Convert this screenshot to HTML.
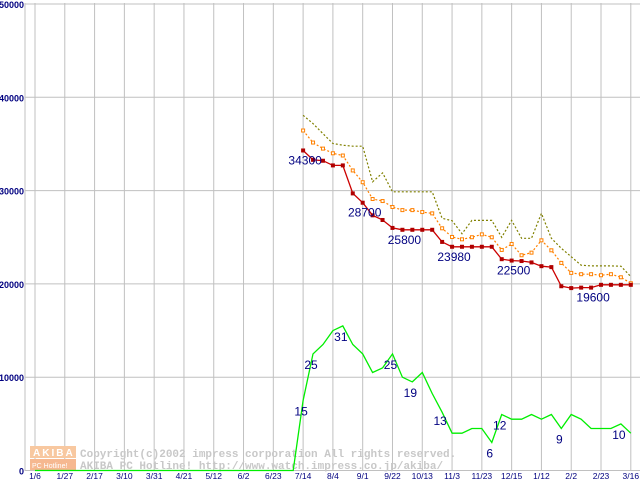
<!DOCTYPE html>
<html><head><meta charset="utf-8"><style>
html,body{margin:0;padding:0;background:#fff;}
svg{display:block;font-family:"Liberation Sans",sans-serif;}
</style></head><body>
<svg id="chart" width="640" height="480" viewBox="0 0 640 480" xmlns="http://www.w3.org/2000/svg">
<g id="grid"></g>
<g id="wm">
  <rect x="30" y="446" width="46" height="12" fill="#f8c8a0"/>
  <rect x="30" y="459" width="46" height="11" fill="#f6b890"/>
  <text x="33" y="456" font-size="10" font-weight="bold" fill="#fff" letter-spacing="2">AKIBA</text>
  <text x="32" y="468" font-size="7" fill="#fff">PC Hotline!</text>
  <text x="80" y="457" font-family="Liberation Mono,monospace" font-size="11" font-weight="bold" fill="#c8c8c8">Copyright(c)2002 impress corporation All rights reserved.</text>
  <text x="80" y="469" font-family="Liberation Mono,monospace" font-size="11" font-weight="bold" fill="#c8c8c8">AKIBA PC Hotline!  http://www.watch.impress.co.jp/akiba/</text>
</g>
<g id="series"></g>
<g id="labels"></g>
</svg>
<script>
const xTicks=["1/6","1/27","2/17","3/10","3/31","4/21","5/12","6/2","6/23","7/14","8/4","9/1","9/22","10/13","11/3","11/23","12/15","1/12","2/2","2/23","3/16"];
const yTicks=[0,10000,20000,30000,40000,50000];
const startIdx=27;
const priceMin=[34300,33300,33200,32700,32700,29700,28700,27350,26850,26000,25800,25800,25800,25800,24500,23980,23980,23980,23980,23980,22650,22500,22450,22300,21900,21800,19750,19550,19600,19600,19900,19900,19900,19900];
const priceAvg=[36440,35150,34500,34000,33760,32160,30900,29100,28880,28240,27910,27910,27700,27560,25960,25030,24780,25000,25310,25000,23640,24280,23070,23350,24670,23600,22250,21180,21040,21040,20930,21040,20710,20070];
const priceMax=[38070,37180,36100,35050,34870,34760,34760,30940,31900,29870,29870,29870,29870,29870,27030,26770,25380,26810,26810,26810,25000,26810,24890,24890,27560,24890,23820,22920,22000,21930,21930,21930,21900,20780];
const shopCount=[0,0,0,0,0,0,0,0,0,0,0,0,0,0,0,0,0,0,0,0,0,0,0,0,0,0,0,15,25,27,30,31,27,25,21,22,25,20,19,21,16.5,12.5,8,8,9,9,6,12,11,11,12,11,12,9,12,11,9,9,9,10,8];
const countLabels=[[27,15],[28,25],[31,31],[36,25],[38,19],[41,13],[46,6],[47,12],[53,9],[59,10]];
const priceLabels=[[27,"34300"],[33,"28700"],[37,"25800"],[42,"23980"],[48,"22500"],[56,"19600"]];
const NS="http://www.w3.org/2000/svg";
const X0=35,STEP=9.93,Y0=470.5,YS=0.00933,CSCALE=500;
const xs=i=>X0+i*STEP, ys=v=>Y0-v*YS;
function mk(p,tag,at){const e=document.createElementNS(NS,tag);for(const k in at)e.setAttribute(k,at[k]);p.appendChild(e);return e;}
const grid=document.getElementById('grid'),ser=document.getElementById('series'),lab=document.getElementById('labels');
yTicks.forEach(t=>{
  const l=mk(grid,'line',{x1:25,x2:640,y1:ys(t),y2:ys(t),stroke:'#c0c0c0','stroke-width':1});
  
  
  const tx=mk(lab,'text',{x:24,y:ys(t)+4,'text-anchor':'end','font-size':9,'font-weight':'bold',fill:'#000080'});
  tx.textContent=t;
  
  
});
const ax=mk(grid,'line',{x1:25,x2:25,y1:3,y2:471,stroke:'#c0c0c0','stroke-width':1});


xTicks.forEach((t,k)=>{
  const x=xs(k*3);
  const l=mk(grid,'line',{x1:x,x2:x,y1:3,y2:471,stroke:'#c0c0c0','stroke-width':1});
  
  
  const tx=mk(lab,'text',{x:x,y:479,'text-anchor':'middle','font-size':8.5,fill:'#000080'});
  tx.textContent=t;
  
  
});
function pts(arr,off){return arr.map((v,i)=>xs(i+off).toFixed(1)+','+ys(v).toFixed(1)).join(' ');}
const gl=mk(ser,'polyline',{points:shopCount.map((v,i)=>xs(i).toFixed(1)+','+ys(v*CSCALE).toFixed(1)).join(' '),fill:'none',stroke:'#00ee00','stroke-width':1.3});


const ml=mk(ser,'polyline',{points:pts(priceMax,startIdx),fill:'none',stroke:'#808000','stroke-width':1.2,'stroke-dasharray':'2,2'});


const al=mk(ser,'polyline',{points:pts(priceAvg,startIdx),fill:'none',stroke:'#ff8000','stroke-width':1.2,'stroke-dasharray':'2,2'});


priceAvg.forEach((v,i)=>{const r=mk(ser,'rect',{x:xs(i+startIdx)-1.5,y:ys(v)-1.5,width:3,height:3,fill:'#fff',stroke:'#ff8000','stroke-width':1});
  
  });
const rl=mk(ser,'polyline',{points:pts(priceMin,startIdx),fill:'none',stroke:'#cc0000','stroke-width':1.3});


priceMin.forEach((v,i)=>{const r=mk(ser,'rect',{x:xs(i+startIdx)-2,y:ys(v)-2,width:4,height:4,fill:'#b00000'});
  
  });
priceLabels.forEach(([i,t])=>{const tx=mk(lab,'text',{x:xs(i)+2,y:ys(priceMin[i-startIdx])+14,'text-anchor':'middle','font-size':12,fill:'#000080'});
  tx.textContent=t;
  
  });
countLabels.forEach(([i,v])=>{const tx=mk(lab,'text',{x:xs(i)-2,y:ys(v*CSCALE)+15,'text-anchor':'middle','font-size':12,fill:'#000080'});
  tx.textContent=v;
  
  });
</script>
</body></html>
